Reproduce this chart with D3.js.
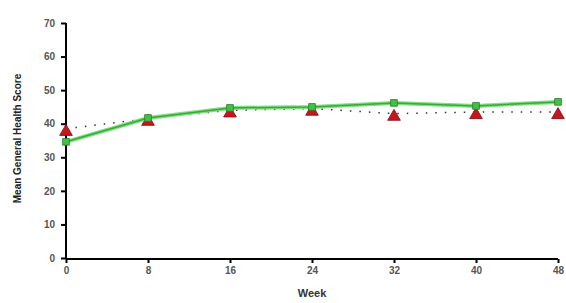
<!DOCTYPE html>
<html>
<head>
<meta charset="utf-8">
<script src="https://cdn.jsdelivr.net/npm/d3@7"></script>
<style>
  body { margin: 0; background: #fff; }
  text { font-family: "Liberation Sans", Arial, sans-serif; }
</style>
</head>
<body>
<div id="chart"></div>
<script>
const weeks = [0, 8, 16, 24, 32, 40, 48];
const tickLabels = ['0', '8', '16', '24', '32', '40', '48'];
const greenSeries = [34.6, 41.7, 44.7, 45.0, 46.2, 45.3, 46.5];
const redSeries = [38.5, 41.5, 44.0, 44.5, 43.0, 43.5, 43.5];
const yTicks = [0, 10, 20, 30, 40, 50, 60, 70];

const width = 566;
const height = 303;
const margin = { top: 23, right: 8, bottom: 45, left: 66 };

const svg = d3.select('#chart')
  .append('svg')
  .attr('width', width)
  .attr('height', height);

const x = d3.scaleLinear()
  .domain([0, 48])
  .range([margin.left, width - margin.right]);

const y = d3.scaleLinear()
  .domain([0, 70])
  .range([height - margin.bottom, margin.top]);

// axes
const xAxis = svg.append('g')
  .attr('transform', `translate(0, ${y(0) + 1})`)
  .call(d3.axisBottom(x)
    .tickValues(weeks)
    .tickFormat((d, i) => tickLabels[i])
    .tickSize(4)
    .tickPadding(4));

const yAxis = svg.append('g')
  .attr('transform', `translate(${x(0)}, 0)`)
  .call(d3.axisLeft(y)
    .tickValues(yTicks)
    .tickSize(5)
    .tickPadding(6));

[xAxis, yAxis].forEach((g) => {
  g.select('.domain').attr('stroke', '#000').attr('stroke-width', 2);
  g.selectAll('.tick line').attr('stroke', '#000').attr('stroke-width', 2);
  g.selectAll('.tick text')
    .attr('fill', '#555')
    .attr('font-size', 10)
    .attr('font-weight', 'bold');
});
xAxis.select('.domain').attr('d', `M${x(0)},0H${x(48)}`);
yAxis.select('.domain').attr('d', `M0,${y(70)}V${y(0)}`);

svg.append('text')
  .attr('x', x(24))
  .attr('y', 297)
  .attr('text-anchor', 'middle')
  .attr('font-size', 11)
  .attr('font-weight', 'bold')
  .attr('fill', '#333')
  .text('Week');

svg.append('text')
  .attr('transform', `translate(21, ${y(35) - 2}) rotate(-90)`)
  .attr('text-anchor', 'middle')
  .attr('font-size', 10)
  .attr('font-weight', 'bold')
  .attr('fill', '#222')
  .text('Mean General Health Score');

const line = d3.line()
  .x((d, i) => x(weeks[i]))
  .y((d) => y(d));

// red dotted series
svg.append('path')
  .datum(redSeries)
  .attr('d', line)
  .attr('fill', 'none')
  .attr('stroke', '#333')
  .attr('stroke-width', 1.5)
  .attr('stroke-dasharray', '1.5,8');

svg.selectAll('.tri')
  .data(redSeries)
  .enter()
  .append('path')
  .attr('class', 'tri')
  .attr('d', d3.symbol().type(d3.symbolTriangle).size(70))
  .attr('transform', (d, i) => `translate(${x(weeks[i])}, ${y(d) + 3})`)
  .attr('fill', '#c8161e')
  .attr('stroke', '#7a1015')
  .attr('stroke-width', 0.8);

// green solid series
svg.append('path')
  .datum(greenSeries)
  .attr('d', line)
  .attr('fill', 'none')
  .attr('stroke', '#7fe07f')
  .attr('stroke-width', 4);

svg.append('path')
  .datum(greenSeries)
  .attr('d', line)
  .attr('fill', 'none')
  .attr('stroke', '#3aa83a')
  .attr('stroke-width', 1.5);

svg.selectAll('.sq')
  .data(greenSeries)
  .enter()
  .append('path')
  .attr('class', 'sq')
  .attr('d', d3.symbol().type(d3.symbolSquare).size(45))
  .attr('transform', (d, i) => `translate(${x(weeks[i])}, ${y(d)})`)
  .attr('fill', '#44c044')
  .attr('stroke', '#2c7a2c')
  .attr('stroke-width', 0.8);
</script>
</body>
</html>
